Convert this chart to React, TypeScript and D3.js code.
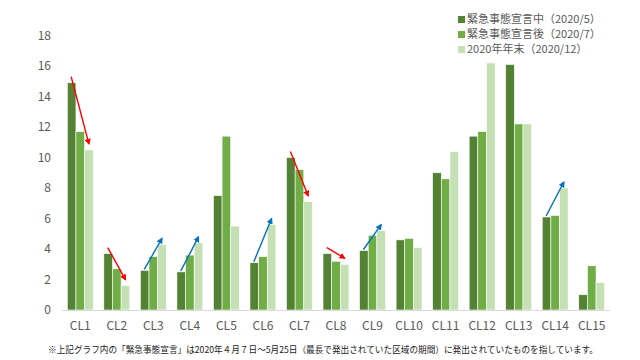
import React from "react";
import * as d3 from "d3";

const categories = ["CL1","CL2","CL3","CL4","CL5","CL6","CL7","CL8","CL9","CL10","CL11","CL12","CL13","CL14","CL15"];
const seriesNames = ["緊急事態宣言中（2020/5）", "緊急事態宣言後（2020/7）", "2020年年末（2020/12）"];
const may2020 = [14.9, 3.7, 2.6, 2.5, 7.5, 3.1, 10.0, 3.7, 3.9, 4.6, 9.0, 11.4, 16.1, 6.1, 1.0];
const jul2020 = [11.7, 2.7, 3.5, 3.6, 11.4, 3.5, 9.2, 3.2, 4.9, 4.7, 8.6, 11.7, 12.2, 6.2, 2.9];
const dec2020 = [10.5, 1.6, 4.3, 4.4, 5.5, 5.6, 7.1, 3.0, 5.2, 4.1, 10.4, 16.2, 12.2, 8.0, 1.8];
const yTicks = [0, 2, 4, 6, 8, 10, 12, 14, 16, 18];
const arrowCats = ["CL1","CL2","CL3","CL4","CL6","CL7","CL8","CL9","CL14"];
const colors = ["#548235", "#70AD47", "#C5E0B4"];
const footnote = "※上記グラフ内の「緊急事態宣言」は2020年４月７日～5月25日（最長で発出されていた区域の期間）に発出されていたものを指しています。";

export default function App() {
  const W = 640, H = 360;
  const left = 62, right = 610, top = 35.5, bottom = 310;
  const pi = 0.29;
  const x = d3.scaleBand<string>().domain(categories).range([left, right]).paddingInner(pi).paddingOuter(pi / 2);
  const xs = d3.scaleBand<number>().domain([0, 1, 2]).range([0, x.bandwidth()]);
  const y = d3.scaleLinear().domain([0, 18]).range([bottom, top]);
  const series = [may2020, jul2020, dec2020];
  const font = "'Noto Sans CJK JP', 'Noto Sans', sans-serif";

  return (
    <svg width={W} height={H} style={{ position: "absolute", left: 0, top: 0, background: "#fff" }}>
      <defs>
        <marker id="hr" viewBox="0 0 10 10" refX="8" refY="5" markerWidth="4.5" markerHeight="4.5" orient="auto">
          <path d="M0,0 L10,5 L0,10 z" fill="#FF0000" />
        </marker>
        <marker id="hb" viewBox="0 0 10 10" refX="8" refY="5" markerWidth="4.5" markerHeight="4.5" orient="auto">
          <path d="M0,0 L10,5 L0,10 z" fill="#0070C0" />
        </marker>
      </defs>
      {yTicks.map(t => (
        <text key={t} x={51} y={y(t)} dy="0.35em" textAnchor="end" fontSize={12} fill="#595959" fontFamily={font}>{t}</text>
      ))}
      {categories.map((c, i) => (
        <g key={c}>
          {series.map((s, j) => (
            <rect key={j} x={(x(c) as number) + (xs(j) as number)} y={y(s[i])} width={xs.bandwidth()} height={bottom - y(s[i])}
              fill={colors[j]} stroke="#fff" strokeWidth={0.6} />
          ))}
          <text x={(x(c) as number) + x.bandwidth() / 2} y={326} dy="0.35em" textAnchor="middle" fontSize={12} fill="#595959" fontFamily={font}>{c}</text>
        </g>
      ))}
      <line x1={left} x2={right} y1={bottom + 0.5} y2={bottom + 0.5} stroke="#D9D9D9" strokeWidth={1} />
      {arrowCats.map(c => {
        const i = categories.indexOf(c);
        const x0 = (x(c) as number) + (xs(0) as number) + xs.bandwidth() * 0.45;
        const x1 = (x(c) as number) + (xs(2) as number) + xs.bandwidth() * 0.5;
        const down = dec2020[i] < may2020[i];
        const y0 = y(may2020[i]) - (down ? 6 : 1);
        const y1 = y(dec2020[i]) - 6;
        return (
          <line key={c} x1={x0} y1={y0} x2={x1} y2={y1} stroke={down ? "#FF0000" : "#0070C0"} strokeWidth={1.4}
            markerEnd={down ? "url(#hr)" : "url(#hb)"} />
        );
      })}
      {seriesNames.map((n, j) => (
        <g key={n}>
          <rect x={458} y={16 + j * 15} width={7} height={7} fill={colors[j]} />
          <text x={467} y={19.5 + j * 15} dy="0.35em" fontSize={11} fill="#595959" fontFamily={font}>{n}</text>
        </g>
      ))}
      <text x={48} y={350} dy="0.35em" fontSize={9} fill="#222" fontFamily={font} textLength={550} lengthAdjust="spacingAndGlyphs">{footnote}</text>
    </svg>
  );
}
